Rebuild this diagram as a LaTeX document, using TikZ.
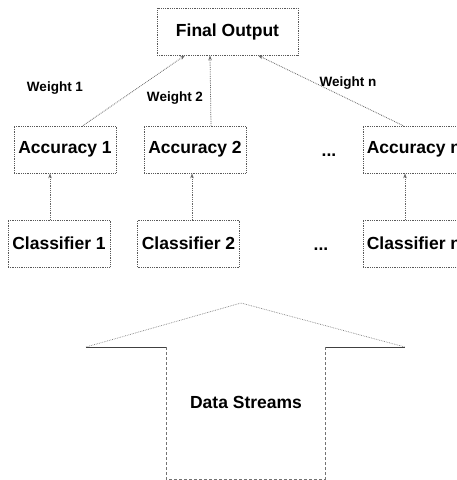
\documentclass[tikz,border=0pt]{standalone}
\usepackage{fontspec}
\setmainfont{Liberation Sans}
\usepackage{tikz}
\usetikzlibrary{arrows.meta, calc, positioning}

\begin{document}
\begin{tikzpicture}[x=1pt, y=-1pt,
    box/.style={draw=black!65, densely dotted, line width=0.8pt, minimum height=47pt, inner sep=1pt, font=\fontsize{17.5}{20}\selectfont\bfseries},
    link/.style={draw=black!60, densely dotted, line width=0.8pt, -{Stealth[length=5pt,width=3.5pt]}},
    wlabel/.style={font=\fontsize{13.5}{16}\selectfont\bfseries}]
    \useasboundingbox (0,0) rectangle (457,480);

    \node[box, minimum width=141pt] (out) at (227.5,31.5) {Final Output};

    \node[box, minimum width=102pt] (acc1) at (65,149.5) {Accuracy 1};
    \node[box, minimum width=102pt] (acc2) at (195,149.5) {Accuracy 2};
    \node[box, minimum width=102pt] (accn) at (414,149.5) {Accuracy n};
    \node[box, draw=none] (dots1) at (329,155) {...};

    \node[box, minimum width=102pt] (cls1) at (59,243.5) {Classifier 1};
    \node[box, minimum width=102pt] (cls2) at (188.5,243.5) {Classifier 2};
    \node[box, minimum width=102pt] (clsn) at (414,243.5) {Classifier n};
    \node[box, draw=none] (dots2) at (321,249) {...};

    % weighted links to the output
    \draw[link] ([xshift=18pt]acc1.north) -- ([xshift=-42.5pt]out.south);
    \draw[link] ([xshift=16pt]acc2.north) -- ([xshift=-17.5pt]out.south);
    \draw[link] ([xshift=-11pt]accn.north) -- ([xshift=30.5pt]out.south);
    \node[wlabel] (w1) at (55,88) {Weight 1};
    \node[wlabel] (w2) at (175,98) {Weight 2};
    \node[wlabel] (wn) at (348,83) {Weight n};

    \draw[link] ([xshift=-9pt]cls1.north) -- ([xshift=-9pt]cls1.north |- acc1.south);
    \draw[link] ([xshift=3.5pt]cls2.north) -- ([xshift=3.5pt]cls2.north |- acc2.south);
    \draw[link] ([xshift=-9pt]clsn.north) -- ([xshift=-9pt]clsn.north |- accn.south);

    % block arrow
    \draw[black!50, densely dotted, line width=0.7pt] (86,347) -- (241,303) -- (405,347);
    \draw[black!75, line width=1pt] (86,347) -- (166,347) (325,347) -- (405,347);
    \draw[black!55, densely dashed, line width=0.7pt] (166,347) -- (166,479) -- (325,479) -- (325,347);
    \node[font=\fontsize{17.5}{20}\selectfont\bfseries] (data) at (246,402) {Data Streams};
\end{tikzpicture}
\end{document}
